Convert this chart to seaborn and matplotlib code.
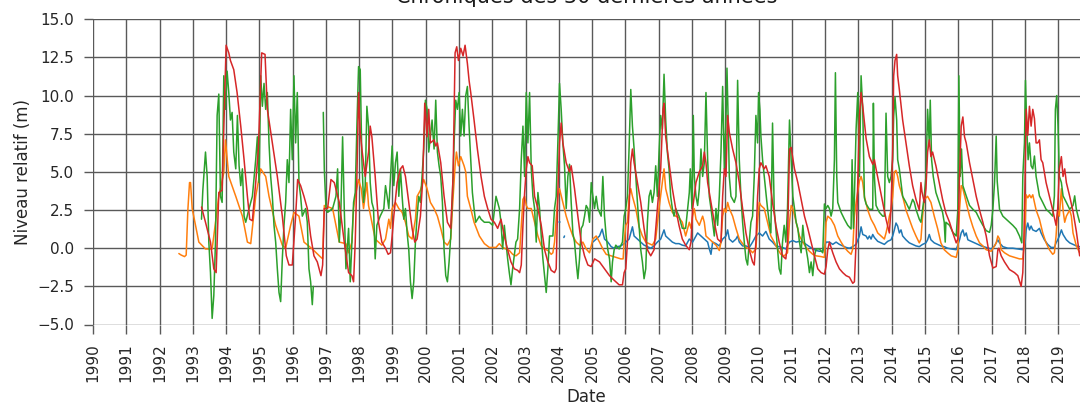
import numpy as np
import pandas as pd
import matplotlib
matplotlib.use("Agg")
import matplotlib.pyplot as plt
import matplotlib.dates as mdates
import seaborn as sns

nan = np.nan

# (année décimale, niveau relatif en m) ; nan = lacune
piezo_orange = [
    (1992.58, -0.35), (1992.65, -0.45), (1992.75, -0.55), (1992.80, -0.45), (1992.85, 2.5), (1992.90, 4.3),
    (1992.93, 4.3), (1992.98, 2.6), (1993.18, 0.4), (1993.38, -0.05), (1993.58, -0.05), (1993.78, 3.4),
    (1993.93, 4.95), (1993.98, 7.1), (1994.08, 4.7), (1994.29, 3.4), (1994.49, 2.1), (1994.64, 0.4),
    (1994.74, 0.3), (1994.89, 3.4), (1995.04, 5.2), (1995.19, 4.7), (1995.29, 3.4), (1995.49, 1.5),
    (1995.69, 0.2), (1995.79, 0.0), (1995.94, 1.5), (1996.04, 2.35), (1996.19, 2.1), (1996.34, 0.4),
    (1996.59, -0.05), (1996.80, -0.5), (1996.90, -0.7), (1996.95, 2.8), (1997.20, 2.6), (1997.40, 0.4),
    (1997.60, 0.3), (1997.68, -0.3), (1997.78, 0.4), (1997.83, 2.6), (1997.88, 3.4), (1997.98, 4.5),
    (1998.06, 3.9), (1998.13, 2.6), (1998.23, 4.3), (1998.28, 2.8), (1998.38, 1.7), (1998.48, 0.6),
    (1998.58, 0.4), (1998.68, 0.2), (1998.79, 0.6), (1998.89, 1.9), (1998.94, 1.3), (1998.99, 2.6),
    (1999.09, 3.0), (1999.19, 2.6), (1999.29, 2.35), (1999.39, 1.7), (1999.49, 0.8), (1999.59, 0.6),
    (1999.69, 1.9), (1999.74, 3.4), (1999.84, 3.8), (1999.94, 4.5), (2000.04, 3.9), (2000.14, 3.0),
    (2000.25, 2.6), (2000.35, 2.1), (2000.45, 1.3), (2000.55, 0.4), (2000.65, 0.2), (2000.75, 0.6),
    (2000.80, 2.6), (2000.88, 5.4), (2000.92, 6.3), (2000.98, 5.4), (2001.05, 6.0), (2001.15, 5.4),
    (2001.20, 5.0), (2001.25, 3.4), (2001.35, 2.6), (2001.45, 1.7), (2001.61, 0.8), (2001.76, 0.3),
    (2001.91, 0.05), (2002.11, 0.05), (2002.21, 0.3), (2002.31, 0.05), (2002.41, -0.05), (2002.51, -0.15),
    (2002.61, -0.4), (2002.71, -0.5), (2002.82, -0.3), (2002.87, 1.5), (2002.92, 3.2), (2002.97, 3.4),
    (2003.02, 2.8), (2003.07, 2.6), (2003.17, 2.6), (2003.27, 1.7), (2003.37, 0.8), (2003.47, 0.15),
    (2003.57, -0.05), (2003.67, -0.15), (2003.77, -0.4), (2003.82, -0.3), (2003.87, 0.4), (2003.97, 3.4),
    (2004.02, 3.9), (2004.12, 3.0), (2004.22, 2.1), (2004.32, 1.4), (2004.42, 0.8), (2004.52, 0.4),
    (2004.62, 0.2), (2004.72, 0.4), (2004.82, -0.05), (2004.92, -0.3), (2005.02, 0.6), (2005.12, 0.8),
    (2005.22, 0.4), (2005.32, -0.05), (2005.42, -0.4), (2005.57, -0.5), (2005.71, -0.6), (2005.86, -0.7),
    (2005.93, -0.7), (2005.96, 0.4), (2006.01, 1.5), (2006.06, 1.7), (2006.11, 3.4), (2006.16, 3.9),
    (2006.21, 3.4), (2006.31, 2.6), (2006.41, 1.4), (2006.51, 0.8), (2006.61, 0.4), (2006.71, 0.3),
    (2006.81, 0.2), (2006.91, 0.6), (2007.01, 2.6), (2007.11, 4.3), (2007.16, 5.2), (2007.21, 3.9),
    (2007.31, 3.0), (2007.41, 2.35), (2007.51, 2.1), (2007.61, 2.0), (2007.71, 1.7), (2007.81, 0.8),
    (2007.92, 1.7), (2007.97, 1.3), (2008.02, 2.1), (2008.07, 2.6), (2008.12, 1.9), (2008.22, 1.5),
    (2008.32, 2.1), (2008.37, 1.7), (2008.42, 0.8), (2008.52, 0.6), (2008.62, 0.4), (2008.72, 0.2),
    (2008.82, -0.15), (2008.87, 0.4), (2008.92, 2.1), (2008.97, 2.6), (2009.02, 2.35), (2009.07, 3.0),
    (2009.12, 2.6), (2009.22, 2.1), (2009.32, 1.3), (2009.42, 0.6), (2009.52, 0.3), (2009.62, 0.05),
    (2009.72, -0.05), (2009.82, -0.3), (2009.92, -0.05), (2009.97, 1.7), (2010.02, 3.0), (2010.07, 2.8),
    (2010.17, 2.6), (2010.27, 1.7), (2010.37, 0.8), (2010.47, 0.4), (2010.57, -0.05), (2010.67, -0.4),
    (2010.77, -0.5), (2010.87, -0.3), (2010.93, 1.7), (2010.98, 2.8), (2011.03, 2.6), (2011.13, 1.7),
    (2011.23, 0.8), (2011.33, 0.4), (2011.43, 0.05), (2011.53, -0.2), (2011.63, -0.4), (2011.73, -0.5),
    (2011.88, -0.55), (2011.98, -0.6), (2012.03, 1.7), (2012.08, 2.1), (2012.18, 1.9), (2012.28, 1.5),
    (2012.38, 0.8), (2012.48, 0.4), (2012.58, 0.05), (2012.68, -0.2), (2012.78, -0.4), (2012.83, -0.05),
    (2012.88, 2.1), (2012.93, 3.0), (2013.03, 4.4), (2013.08, 4.7), (2013.13, 4.3), (2013.18, 3.4),
    (2013.28, 2.5), (2013.38, 1.9), (2013.48, 1.5), (2013.58, 1.0), (2013.68, 0.8), (2013.78, 0.6),
    (2013.83, 1.0), (2013.88, 1.5), (2013.93, 2.1), (2013.98, 2.5), (2014.03, 3.4), (2014.08, 5.0),
    (2014.13, 5.1), (2014.18, 4.7), (2014.23, 4.1), (2014.33, 3.4), (2014.43, 2.5), (2014.53, 1.9),
    (2014.63, 1.3), (2014.73, 0.8), (2014.83, 0.35), (2014.88, 0.6), (2014.93, 2.1), (2014.98, 3.2),
    (2015.08, 3.4), (2015.18, 3.0), (2015.28, 2.1), (2015.38, 1.3), (2015.48, 0.35), (2015.58, -0.1),
    (2015.68, -0.3), (2015.79, -0.5), (2015.94, -0.6), (2015.99, -0.1), (2016.04, 2.5), (2016.09, 4.1),
    (2016.14, 3.9), (2016.24, 3.0), (2016.34, 2.1), (2016.44, 1.4), (2016.54, 0.8), (2016.64, 0.35),
    (2016.74, 0.15), (2016.84, -0.1), (2016.99, -0.2), (2017.09, 0.15), (2017.14, 0.35), (2017.19, 0.8),
    (2017.24, 0.6), (2017.29, -0.1), (2017.39, -0.3), (2017.54, -0.5), (2017.69, -0.6), (2017.84, -0.7),
    (2017.94, -0.7), (2017.99, 0.4), (2018.04, 3.5), (2018.09, 3.3), (2018.14, 3.5), (2018.19, 3.3),
    (2018.24, 3.5), (2018.34, 2.5), (2018.44, 1.9), (2018.54, 1.0), (2018.64, 0.35), (2018.74, -0.1),
    (2018.84, -0.4), (2018.89, -0.3), (2018.94, 0.8), (2018.99, 2.5), (2019.04, 2.1), (2019.10, 3.9),
    (2019.15, 2.5), (2019.20, 1.7), (2019.25, 2.1), (2019.35, 2.5), (2019.40, 2.1), (2019.45, 1.0),
    (2019.55, 0.15), (2019.65, -0.3),
]

piezo_bleu = [
    (2004.00, 1.7), (2004.02, 1.7), (2004.03, nan), (2004.15, 0.7), (2004.17, 0.8), (2004.18, nan),
    (2005.02, 0.4), (2005.12, 0.6), (2005.22, 0.8), (2005.30, 1.25), (2005.37, 0.6), (2005.47, 0.4),
    (2005.57, 0.1), (2005.66, 0.0), (2005.76, 0.1), (2005.86, 0.15), (2005.96, 0.3), (2006.01, 0.4),
    (2006.11, 0.6), (2006.21, 1.4), (2006.26, 0.8), (2006.36, 0.6), (2006.46, 0.4), (2006.56, 0.2),
    (2006.66, 0.1), (2006.76, 0.0), (2006.86, 0.15), (2006.96, 0.4), (2007.06, 0.6), (2007.16, 1.2),
    (2007.21, 0.8), (2007.31, 0.6), (2007.41, 0.4), (2007.51, 0.3), (2007.61, 0.3), (2007.71, 0.2),
    (2007.81, 0.15), (2007.92, 0.6), (2008.02, 0.4), (2008.12, 0.8), (2008.17, 1.0), (2008.27, 0.8),
    (2008.37, 0.6), (2008.47, 0.4), (2008.52, -0.05), (2008.57, -0.4), (2008.62, 0.4), (2008.72, 0.3),
    (2008.82, 0.15), (2008.92, 0.6), (2009.02, 0.8), (2009.07, 1.2), (2009.12, 0.6), (2009.22, 0.4),
    (2009.32, 0.6), (2009.37, 0.8), (2009.42, 0.4), (2009.52, 0.15), (2009.62, 0.15), (2009.72, 0.05),
    (2009.82, 0.4), (2009.92, 0.8), (2010.02, 1.0), (2010.12, 0.8), (2010.22, 1.1), (2010.32, 0.6),
    (2010.42, 0.4), (2010.52, 0.15), (2010.62, 0.1), (2010.72, 0.05), (2010.82, -0.05), (2010.93, 0.4),
    (2011.03, 0.5), (2011.13, 0.4), (2011.23, 0.45), (2011.33, 0.4), (2011.43, 0.25), (2011.53, 0.1),
    (2011.63, -0.05), (2011.73, -0.15), (2011.83, -0.2), (2011.93, -0.2), (2012.03, 0.4), (2012.13, 0.4),
    (2012.23, 0.25), (2012.33, 0.4), (2012.43, 0.25), (2012.53, 0.15), (2012.63, 0.05), (2012.73, 0.0),
    (2012.83, 0.1), (2012.93, 0.25), (2013.03, 0.8), (2013.08, 1.4), (2013.13, 0.9), (2013.23, 0.8),
    (2013.28, 0.6), (2013.33, 0.8), (2013.38, 0.6), (2013.43, 0.9), (2013.48, 0.7), (2013.58, 0.45),
    (2013.68, 0.35), (2013.78, 0.25), (2013.88, 0.45), (2013.98, 0.55), (2014.03, 0.8), (2014.08, 1.2),
    (2014.13, 1.65), (2014.18, 1.45), (2014.23, 1.0), (2014.28, 1.2), (2014.33, 0.8), (2014.43, 0.55),
    (2014.53, 0.35), (2014.63, 0.25), (2014.73, 0.15), (2014.83, 0.1), (2014.93, 0.25), (2015.03, 0.35),
    (2015.08, 0.55), (2015.13, 0.9), (2015.18, 0.55), (2015.28, 0.35), (2015.38, 0.25), (2015.48, 0.15),
    (2015.58, 0.1), (2015.68, 0.0), (2015.79, -0.05), (2015.94, -0.1), (2016.04, 0.55), (2016.09, 1.0),
    (2016.14, 1.2), (2016.19, 0.8), (2016.24, 1.0), (2016.29, 0.55), (2016.39, 0.45), (2016.49, 0.35),
    (2016.59, 0.25), (2016.69, 0.15), (2016.84, 0.05), (2016.99, -0.05), (2017.09, 0.15), (2017.19, 0.55),
    (2017.24, 0.35), (2017.34, 0.1), (2017.49, 0.0), (2017.64, 0.0), (2017.79, -0.05), (2017.94, -0.1),
    (2018.01, 0.35), (2018.04, 1.2), (2018.09, 1.65), (2018.14, 1.2), (2018.19, 1.45), (2018.24, 1.2),
    (2018.34, 1.1), (2018.44, 1.3), (2018.49, 1.0), (2018.59, 0.55), (2018.69, 0.25), (2018.79, 0.05),
    (2018.89, 0.05), (2018.94, 0.35), (2018.99, 0.55), (2019.04, 0.8), (2019.10, 1.2), (2019.15, 0.9),
    (2019.25, 0.55), (2019.35, 0.35), (2019.45, 0.25), (2019.55, 0.15), (2019.65, 0.1),
]

piezo_vert = [
    (1993.26, 1.9), (1993.30, 3.8), (1993.38, 6.3), (1993.43, 4.7), (1993.48, 0.4), (1993.53, -1.6),
    (1993.58, -4.6), (1993.63, -3.1), (1993.68, 0.4), (1993.73, 8.7), (1993.78, 10.1), (1993.83, 3.4),
    (1993.88, 3.0), (1993.93, 11.3), (1993.98, 9.1), (1994.03, 11.6), (1994.08, 10.2), (1994.13, 8.4),
    (1994.18, 8.9), (1994.23, 6.3), (1994.29, 5.2), (1994.34, 8.7), (1994.39, 5.4), (1994.44, 4.1),
    (1994.49, 5.2), (1994.54, 2.1), (1994.59, 1.7), (1994.69, 2.6), (1994.79, 3.4), (1994.89, 5.8),
    (1994.94, 7.3), (1994.99, 4.3), (1995.04, 11.3), (1995.09, 9.3), (1995.14, 10.8), (1995.19, 9.1),
    (1995.24, 10.2), (1995.29, 6.9), (1995.34, 4.7), (1995.39, 3.4), (1995.44, 1.5), (1995.49, 0.4),
    (1995.54, -1.35), (1995.59, -2.9), (1995.64, -3.5), (1995.69, -0.7), (1995.74, 1.5), (1995.79, 3.0),
    (1995.84, 5.8), (1995.89, 4.3), (1995.94, 9.1), (1995.99, 5.8), (1996.04, 11.3), (1996.09, 6.9),
    (1996.14, 10.2), (1996.19, 4.3), (1996.24, 3.4), (1996.29, 2.1), (1996.39, 2.6), (1996.44, 1.7),
    (1996.49, -1.35), (1996.54, -2.2), (1996.59, -3.7), (1996.62, -2.5), (1996.63, nan),
    (1996.92, 8.9), (1996.95, 5.2), (1997.00, 2.6), (1997.05, 2.35), (1997.20, 2.6), (1997.30, 3.4),
    (1997.35, 5.2), (1997.40, 0.4), (1997.45, 2.6), (1997.50, 7.3), (1997.55, 2.6), (1997.60, -1.35),
    (1997.68, 1.3), (1997.73, -2.2), (1997.78, 0.4), (1997.83, 3.0), (1997.88, 3.65), (1997.93, 8.0),
    (1997.98, 11.9), (1998.03, 11.7), (1998.08, 5.8), (1998.13, 3.0), (1998.18, 4.1), (1998.23, 9.3),
    (1998.28, 8.0), (1998.33, 4.3), (1998.38, 3.0), (1998.43, 2.6), (1998.48, -0.7), (1998.53, 1.5),
    (1998.63, 2.1), (1998.74, 2.6), (1998.79, 4.1), (1998.84, 3.4), (1998.89, 2.6), (1998.94, 4.7),
    (1998.99, 6.7), (1999.04, 4.1), (1999.09, 5.6), (1999.14, 6.3), (1999.19, 3.4), (1999.24, 5.2),
    (1999.29, 3.4), (1999.34, 1.9), (1999.39, 2.6), (1999.44, 1.0), (1999.49, -0.1), (1999.54, -2.2),
    (1999.59, -3.3), (1999.64, -2.2), (1999.69, 0.4), (1999.74, 2.1), (1999.79, 3.4), (1999.84, 3.0),
    (1999.89, 4.7), (1999.94, 6.5), (1999.99, 9.7), (2000.04, 9.1), (2000.09, 6.3), (2000.14, 7.3),
    (2000.19, 8.4), (2000.25, 6.5), (2000.30, 9.7), (2000.35, 6.3), (2000.40, 5.4), (2000.45, 4.7),
    (2000.50, 3.0), (2000.55, -0.1), (2000.60, -1.8), (2000.65, -2.2), (2000.70, -0.9), (2000.75, 0.8),
    (2000.80, 3.4), (2000.85, 6.9), (2000.90, 9.7), (2000.95, 9.1), (2001.00, 10.2), (2001.05, 7.35),
    (2001.10, 9.1), (2001.15, 7.35), (2001.20, 10.0), (2001.25, 10.6), (2001.30, 8.0), (2001.35, 5.8),
    (2001.40, 3.65), (2001.45, 2.6), (2001.50, 1.7), (2001.61, 2.1), (2001.66, 1.9), (2001.76, 1.7),
    (2001.91, 1.7), (2002.01, 1.5), (2002.11, 3.4), (2002.16, 3.0), (2002.21, 2.6), (2002.26, 1.7),
    (2002.31, -0.05), (2002.36, 1.5), (2002.41, 0.4), (2002.46, -0.7), (2002.51, -1.6), (2002.56, -2.4),
    (2002.61, -1.35), (2002.71, 0.4), (2002.76, 0.6), (2002.82, 2.6), (2002.87, 5.8), (2002.92, 8.0),
    (2002.97, 4.7), (2003.02, 10.2), (2003.07, 6.9), (2003.12, 10.2), (2003.17, 5.2), (2003.22, 3.4),
    (2003.27, 2.6), (2003.32, 0.4), (2003.37, 3.65), (2003.42, 2.6), (2003.47, 0.8), (2003.52, -0.7),
    (2003.57, -1.8), (2003.62, -2.9), (2003.67, -1.35), (2003.72, 0.8), (2003.82, 0.8), (2003.87, 2.6),
    (2003.92, 3.4), (2003.97, 6.9), (2004.02, 10.8), (2004.07, 9.1), (2004.12, 6.9), (2004.17, 5.4),
    (2004.22, 2.6), (2004.27, 4.7), (2004.32, 5.5), (2004.37, 3.0), (2004.42, 1.0), (2004.47, 0.4),
    (2004.52, -0.9), (2004.57, -2.0), (2004.62, -0.7), (2004.67, 1.3), (2004.72, 1.5), (2004.77, 2.1),
    (2004.82, 2.8), (2004.87, 2.6), (2004.92, 1.7), (2004.97, 4.3), (2005.02, 3.4), (2005.07, 2.6),
    (2005.12, 3.4), (2005.17, 2.6), (2005.27, 2.1), (2005.32, 4.7), (2005.37, 2.1), (2005.42, 0.8),
    (2005.47, -0.1), (2005.52, -0.7), (2005.57, -2.2), (2005.61, -0.9), (2005.66, -0.1), (2005.71, 0.2),
    (2005.81, -0.05), (2005.91, 0.4), (2005.96, 2.1), (2006.01, 2.6), (2006.06, 3.4), (2006.11, 6.6),
    (2006.16, 10.4), (2006.21, 8.0), (2006.26, 6.5), (2006.31, 4.7), (2006.36, 3.0), (2006.41, 1.5),
    (2006.46, -0.1), (2006.51, -0.9), (2006.56, -2.0), (2006.61, -1.35), (2006.66, 1.7), (2006.71, 3.4),
    (2006.76, 3.8), (2006.81, 3.0), (2006.86, 3.65), (2006.91, 5.4), (2006.96, 3.4), (2007.01, 6.3),
    (2007.06, 8.7), (2007.11, 7.8), (2007.16, 11.4), (2007.21, 8.4), (2007.26, 6.3), (2007.31, 5.2),
    (2007.36, 3.4), (2007.41, 2.6), (2007.46, 2.1), (2007.51, 2.6), (2007.56, 2.35), (2007.61, 2.1),
    (2007.71, 1.3), (2007.81, 1.3), (2007.92, 3.65), (2007.95, 5.2), (2008.00, 2.6), (2008.04, 8.7),
    (2008.07, 4.7), (2008.12, 3.4), (2008.17, 2.8), (2008.22, 3.9), (2008.27, 6.5), (2008.32, 4.7),
    (2008.37, 5.6), (2008.42, 10.2), (2008.47, 5.8), (2008.52, 3.4), (2008.57, 2.6), (2008.62, 1.7),
    (2008.67, 0.8), (2008.72, 2.6), (2008.77, 1.5), (2008.82, 3.4), (2008.87, 6.3), (2008.92, 10.6),
    (2008.97, 5.2), (2009.02, 8.4), (2009.05, 11.8), (2009.09, 8.0), (2009.12, 4.7), (2009.17, 3.4),
    (2009.27, 3.0), (2009.32, 3.4), (2009.37, 11.0), (2009.42, 5.8), (2009.47, 3.4), (2009.52, 1.7),
    (2009.57, 0.4), (2009.62, -0.7), (2009.67, -1.1), (2009.72, 0.4), (2009.77, 1.7), (2009.82, 2.1),
    (2009.87, 4.7), (2009.92, 8.7), (2009.97, 6.9), (2010.00, 10.2), (2010.04, 9.1), (2010.07, 7.35),
    (2010.12, 5.8), (2010.17, 4.7), (2010.22, 3.65), (2010.27, 2.6), (2010.32, 1.7), (2010.37, 1.0),
    (2010.42, 8.2), (2010.47, 2.6), (2010.52, 1.3), (2010.57, -0.05), (2010.62, -1.35), (2010.67, -1.7),
    (2010.72, 0.4), (2010.77, 1.5), (2010.82, 0.4), (2010.87, 2.6), (2010.93, 8.4), (2010.98, 5.8),
    (2011.03, 3.4), (2011.08, 2.6), (2011.13, 1.7), (2011.18, 1.3), (2011.23, 0.4), (2011.28, -0.3),
    (2011.33, 1.5), (2011.38, 0.4), (2011.43, -0.05), (2011.48, -0.7), (2011.53, -1.6), (2011.58, -0.9),
    (2011.63, -1.8), (2011.68, -0.5), (2011.73, -0.05), (2011.83, -0.05), (2011.93, -0.3), (2011.98, 2.9),
    (2012.03, 2.6), (2012.08, 2.8), (2012.13, 2.6), (2012.18, 2.1), (2012.23, 2.6), (2012.28, 5.8),
    (2012.31, 11.5), (2012.35, 4.7), (2012.38, 3.0), (2012.48, 2.35), (2012.58, 1.9), (2012.68, 1.5),
    (2012.78, 1.26), (2012.81, 5.8), (2012.85, 1.3), (2012.88, 3.4), (2012.93, 7.8), (2012.98, 10.2),
    (2013.03, 4.7), (2013.08, 11.3), (2013.13, 9.1), (2013.18, 3.3), (2013.23, 2.9), (2013.33, 2.55),
    (2013.43, 2.55), (2013.45, 9.5), (2013.48, 4.7), (2013.53, 2.8), (2013.63, 2.35), (2013.73, 2.1),
    (2013.78, 2.1), (2013.83, 8.85), (2013.88, 4.7), (2013.93, 4.3), (2013.98, 4.7), (2014.03, 5.8),
    (2014.06, 8.65), (2014.10, 9.9), (2014.15, 8.4), (2014.18, 5.8), (2014.23, 5.2), (2014.33, 3.4),
    (2014.43, 3.0), (2014.53, 2.55), (2014.63, 3.2), (2014.68, 3.0), (2014.73, 2.55), (2014.83, 1.9),
    (2014.88, 1.7), (2014.93, 2.55), (2014.98, 3.4), (2015.03, 4.7), (2015.08, 9.1), (2015.13, 6.9),
    (2015.16, 9.7), (2015.20, 5.8), (2015.25, 4.7), (2015.33, 3.65), (2015.43, 3.0), (2015.53, 2.35),
    (2015.58, 1.7), (2015.61, 0.4), (2015.63, 1.7), (2015.74, 1.5), (2015.84, 1.04), (2015.94, 0.8),
    (2015.99, 2.55), (2016.02, 11.3), (2016.06, 4.7), (2016.10, 6.5), (2016.14, 4.1), (2016.24, 3.43),
    (2016.34, 2.8), (2016.44, 2.55), (2016.54, 2.35), (2016.64, 1.9), (2016.74, 1.5), (2016.84, 1.15),
    (2016.94, 1.04), (2016.99, 1.5), (2017.04, 2.55), (2017.09, 4.3), (2017.14, 7.35), (2017.17, 4.4),
    (2017.24, 2.55), (2017.34, 2.1), (2017.44, 1.9), (2017.54, 1.7), (2017.64, 1.5), (2017.74, 1.26),
    (2017.84, 0.8), (2017.91, 0.35), (2017.94, 4.7), (2017.99, 6.9), (2018.02, 11.0), (2018.06, 7.8),
    (2018.10, 5.8), (2018.14, 6.9), (2018.19, 5.4), (2018.24, 5.2), (2018.29, 6.04), (2018.34, 4.7),
    (2018.44, 3.43), (2018.54, 3.0), (2018.64, 2.55), (2018.74, 2.35), (2018.84, 2.1), (2018.89, 3.43),
    (2018.92, 9.1), (2018.96, 10.0), (2019.00, 8.0), (2019.04, 4.7), (2019.10, 4.3), (2019.15, 3.43),
    (2019.25, 3.0), (2019.35, 2.55), (2019.45, 2.8), (2019.50, 3.43), (2019.55, 2.55), (2019.60, 2.1),
    (2019.65, 1.7),
]

piezo_rouge = [
    (1993.26, 2.7), (1993.38, 1.7), (1993.53, 0.4), (1993.63, -1.35), (1993.70, -1.6), (1993.78, 3.65),
    (1993.88, 3.8), (1994.00, 13.3), (1994.08, 12.8), (1994.13, 12.3), (1994.23, 11.7), (1994.33, 10.2),
    (1994.44, 8.0), (1994.54, 5.8), (1994.64, 3.4), (1994.71, 1.9), (1994.79, 1.8), (1994.89, 4.3),
    (1994.97, 6.5), (1995.07, 12.8), (1995.17, 12.7), (1995.24, 9.1), (1995.39, 6.9), (1995.54, 4.7),
    (1995.69, 2.1), (1995.81, -0.5), (1995.89, -1.1), (1995.99, -1.1), (1996.09, 2.1), (1996.15, 4.5),
    (1996.24, 4.1), (1996.34, 3.4), (1996.44, 2.6), (1996.54, 0.8), (1996.64, -0.5), (1996.74, -0.9),
    (1996.85, -1.8), (1996.90, -1.1), (1996.95, 2.6), (1997.05, 2.6), (1997.15, 4.5), (1997.25, 4.3),
    (1997.40, 3.0), (1997.55, 0.4), (1997.68, -1.6), (1997.78, -1.8), (1997.83, -2.2), (1997.88, 0.4),
    (1997.93, 4.7), (1997.98, 10.2), (1998.03, 7.6), (1998.08, 6.5), (1998.18, 4.7), (1998.28, 6.3),
    (1998.33, 8.0), (1998.38, 7.3), (1998.48, 4.7), (1998.58, 1.7), (1998.68, 0.4), (1998.79, 0.0),
    (1998.87, -0.4), (1998.94, -0.3), (1998.99, 0.8), (1999.04, 2.1), (1999.14, 4.3), (1999.24, 5.2),
    (1999.31, 5.4), (1999.39, 4.7), (1999.49, 3.0), (1999.59, 1.3), (1999.67, 0.4), (1999.74, 0.6),
    (1999.84, 2.1), (1999.91, 4.5), (1999.97, 9.5), (2000.04, 7.3), (2000.09, 9.1), (2000.14, 6.9),
    (2000.25, 7.1), (2000.30, 6.7), (2000.35, 6.9), (2000.45, 5.6), (2000.55, 3.4), (2000.65, 1.7),
    (2000.75, 1.3), (2000.82, 4.7), (2000.88, 12.8), (2000.93, 13.2), (2000.98, 12.3), (2001.05, 13.1),
    (2001.12, 12.6), (2001.18, 13.3), (2001.25, 12.1), (2001.30, 11.0), (2001.35, 10.2), (2001.45, 8.4),
    (2001.55, 6.5), (2001.66, 4.7), (2001.76, 3.4), (2001.86, 2.6), (2001.96, 1.9), (2002.06, 1.7),
    (2002.16, 1.3), (2002.26, 1.9), (2002.36, 0.8), (2002.46, -0.1), (2002.56, -0.9), (2002.66, -1.35),
    (2002.76, -1.45), (2002.82, -1.6), (2002.87, -1.1), (2002.92, 1.5), (2002.97, 3.6), (2003.02, 5.2),
    (2003.07, 6.0), (2003.12, 5.6), (2003.20, 5.4), (2003.27, 3.4), (2003.37, 2.6), (2003.47, 1.5),
    (2003.57, -0.1), (2003.67, -0.9), (2003.77, -1.45), (2003.87, -1.6), (2003.92, -1.35), (2003.97, 3.65),
    (2004.02, 6.9), (2004.07, 8.2), (2004.12, 6.9), (2004.22, 5.6), (2004.32, 5.0), (2004.37, 5.4),
    (2004.47, 3.9), (2004.57, 2.1), (2004.67, 0.4), (2004.77, -0.5), (2004.87, -1.1), (2004.97, -1.2),
    (2005.07, -0.7), (2005.22, -0.9), (2005.37, -1.35), (2005.52, -1.8), (2005.66, -2.1), (2005.81, -2.4),
    (2005.91, -2.4), (2005.96, -1.6), (2006.01, -1.35), (2006.06, 0.4), (2006.11, 2.6), (2006.16, 5.6),
    (2006.21, 6.5), (2006.26, 5.6), (2006.36, 4.3), (2006.46, 3.0), (2006.56, 1.3), (2006.66, -0.1),
    (2006.76, -0.5), (2006.86, -0.1), (2006.96, 2.6), (2007.06, 5.2), (2007.13, 9.1), (2007.16, 9.5),
    (2007.21, 7.3), (2007.31, 5.6), (2007.41, 3.9), (2007.51, 2.6), (2007.61, 1.5), (2007.71, 0.6),
    (2007.81, 0.2), (2007.92, -0.1), (2007.97, 0.4), (2008.02, 2.6), (2008.12, 4.3), (2008.22, 5.0),
    (2008.32, 5.4), (2008.37, 6.3), (2008.42, 5.6), (2008.47, 4.3), (2008.57, 3.0), (2008.67, 1.7),
    (2008.77, 0.6), (2008.87, 0.4), (2008.92, 3.4), (2008.97, 5.2), (2009.02, 4.7), (2009.07, 8.7),
    (2009.12, 7.6), (2009.22, 6.5), (2009.32, 5.6), (2009.42, 4.3), (2009.52, 2.6), (2009.62, 1.0),
    (2009.72, -0.1), (2009.82, -0.9), (2009.87, -1.1), (2009.92, 0.4), (2009.97, 3.4), (2010.02, 5.2),
    (2010.07, 5.6), (2010.17, 5.2), (2010.22, 5.4), (2010.32, 4.7), (2010.42, 3.0), (2010.52, 1.5),
    (2010.62, 0.4), (2010.72, -0.5), (2010.82, -0.7), (2010.87, 0.4), (2010.93, 6.5), (2010.98, 6.6),
    (2011.08, 5.2), (2011.18, 4.3), (2011.28, 3.2), (2011.38, 2.1), (2011.48, 1.3), (2011.58, 0.4),
    (2011.68, -0.5), (2011.78, -1.35), (2011.88, -1.6), (2011.98, -1.7), (2012.03, -1.2), (2012.08, -0.1),
    (2012.13, 0.4), (2012.23, -0.3), (2012.33, -0.9), (2012.43, -1.35), (2012.53, -1.6), (2012.63, -1.8),
    (2012.73, -1.9), (2012.83, -2.3), (2012.88, -2.2), (2012.93, 0.4), (2012.98, 4.3), (2013.03, 8.7),
    (2013.08, 10.2), (2013.13, 9.3), (2013.23, 7.2), (2013.33, 6.0), (2013.43, 5.5), (2013.48, 5.8),
    (2013.53, 5.2), (2013.63, 4.1), (2013.73, 3.0), (2013.83, 1.9), (2013.93, 1.0), (2013.98, 2.6),
    (2014.03, 6.5), (2014.06, 11.3), (2014.10, 12.3), (2014.15, 12.7), (2014.18, 11.3), (2014.23, 10.4),
    (2014.33, 8.4), (2014.43, 6.9), (2014.53, 5.4), (2014.63, 4.1), (2014.73, 3.2), (2014.83, 2.5),
    (2014.88, 4.3), (2014.91, 3.7), (2014.98, 3.0), (2015.03, 3.9), (2015.08, 6.3), (2015.13, 7.1),
    (2015.18, 6.0), (2015.23, 6.3), (2015.33, 5.4), (2015.43, 4.3), (2015.53, 3.2), (2015.63, 2.3),
    (2015.74, 1.7), (2015.84, 1.0), (2015.94, 0.35), (2015.99, 0.6), (2016.04, 4.7), (2016.09, 8.0),
    (2016.14, 8.6), (2016.19, 7.3), (2016.24, 6.9), (2016.34, 5.6), (2016.44, 4.5), (2016.54, 3.4),
    (2016.64, 2.5), (2016.74, 1.7), (2016.84, 0.8), (2016.94, -0.5), (2017.04, -1.3), (2017.14, -1.2),
    (2017.19, -0.1), (2017.22, 0.0), (2017.29, -0.5), (2017.39, -0.9), (2017.54, -1.4), (2017.69, -1.6),
    (2017.79, -1.8), (2017.89, -2.5), (2017.94, -1.6), (2017.97, 0.4), (2018.01, 4.7), (2018.04, 9.1),
    (2018.09, 7.4), (2018.14, 9.3), (2018.19, 8.0), (2018.24, 9.1), (2018.29, 8.5), (2018.34, 6.9),
    (2018.39, 6.9), (2018.44, 7.1), (2018.49, 5.8), (2018.54, 5.6), (2018.64, 4.3), (2018.74, 3.4),
    (2018.84, 2.5), (2018.94, 1.5), (2018.99, 2.6), (2019.04, 5.2), (2019.10, 6.0), (2019.15, 4.7),
    (2019.20, 5.2), (2019.25, 4.3), (2019.35, 3.4), (2019.45, 2.4), (2019.55, 1.1), (2019.65, -0.5),
]

series = {"bleu": piezo_bleu, "orange": piezo_orange, "vert": piezo_vert, "rouge": piezo_rouge}
couleurs = {"bleu": "#1f77b4", "orange": "#ff7f0e", "vert": "#2ca02c", "rouge": "#d62728"}


def annee_vers_date(a):
    an = int(np.floor(a))
    debut = pd.Timestamp(an, 1, 1)
    return debut + (pd.Timestamp(an + 1, 1, 1) - debut) * (a - an)


# tableau long : un segment par morceau continu (les nan coupent la ligne)
lignes = []
for nom, pts in series.items():
    seg = 0
    for a, v in pts:
        if np.isnan(v):
            seg += 1
            continue
        lignes.append({"date": annee_vers_date(a), "niveau": v, "serie": nom, "seg": f"{nom}_{seg}"})
df = pd.DataFrame(lignes)

sns.set_theme(style="ticks")
plt.rcParams["font.family"] = ["DejaVu Sans"]

fig = plt.figure(figsize=(10.8, 4.08), dpi=100)
ax = fig.add_axes([93 / 1080, 1 - 324.5 / 408, 1 - 93 / 1080, (324.5 - 19.3) / 408])

sns.lineplot(data=df, x="date", y="niveau", hue="serie", units="seg", estimator=None,
             hue_order=list(series), palette=couleurs, linewidth=1.1, legend=False, ax=ax)

ax.set_xlim(pd.Timestamp(1990, 1, 1), annee_vers_date(2019.66))
ax.set_ylim(-5, 15)
ax.set_yticks(np.arange(-5, 15.1, 2.5))
ax.xaxis.set_major_locator(mdates.YearLocator(1))
ax.xaxis.set_major_formatter(mdates.DateFormatter("%Y"))
ax.tick_params(axis="x", labelrotation=90)
ax.tick_params(length=6.5, width=1, color="0.35", pad=7, labelsize=11, labelcolor="0.15")
ax.grid(True, color="0.35", linewidth=1.0)
for sp in ax.spines.values():
    sp.set_visible(False)

ax.set_title("Chroniques des 30 dernières années", fontsize=15, pad=11.8, color="0.1")
ax.set_xlabel("Date", fontsize=12, color="0.15")
ax.set_ylabel("Niveau relatif (m)", fontsize=12, color="0.15")

fig.savefig("out.png", dpi=100)
